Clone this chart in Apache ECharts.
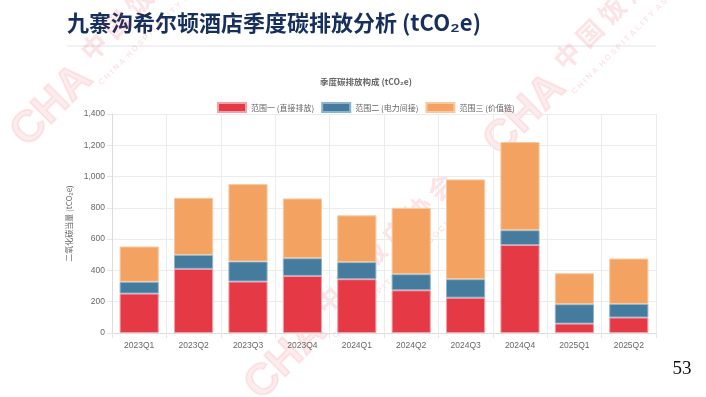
<!DOCTYPE html>
<html>
<head>
<meta charset="utf-8">
<title>九寨沟希尔顿酒店季度碳排放分析</title>
<script src="https://cdn.jsdelivr.net/npm/echarts@6/dist/echarts.min.js"></script>
<style>
    html, body { margin: 0; padding: 0; background: #fff; }
    #main { width: 706px; height: 397px; }
</style>
</head>
<body>
<div id="main"></div>
<script>
/* 数据 */
var quarters = ['2023Q1', '2023Q2', '2023Q3', '2023Q4', '2024Q1', '2024Q2', '2024Q3', '2024Q4', '2025Q1', '2025Q2'];
var scope1 = [252, 410, 329, 365, 344, 273, 226, 563, 60, 99];
var scope2 = [75, 89, 128, 113, 109, 103, 118, 94, 124, 87];
var scope3 = [226, 365, 495, 382, 299, 424, 638, 564, 198, 290];
var seriesNames = ['范围一 (直接排放)', '范围二 (电力间接)', '范围三 (价值链)'];
var yTicks = { min: 0, max: 1400, step: 200 };

var FONT = '"Liberation Sans", Arial, "Noto Sans CJK SC", sans-serif';
var CJK = '"Noto Sans CJK SC", "Liberation Sans", sans-serif';
var WM = 'rgba(228, 40, 52, 0.13)';
var WM_LOGO = 'rgba(228, 40, 52, 0.09)';

(function () {
    'use strict';
    var chart = echarts.init(document.getElementById('main'), null, { renderer: 'canvas' });

    /* 水印：logo + 中文 + 英文，45度斜放 */
    function stamp(x, y) {
        var rot = Math.PI / 4;
        return [
            {
                type: 'text', x: x - 48, y: y + 22, rotation: rot, silent: true,
                style: { text: 'CHA', fill: WM_LOGO, stroke: WM_LOGO, lineWidth: 2,
                    font: 'bold 44px ' + FONT, textAlign: 'center', textVerticalAlign: 'middle' }
            },
            {
                type: 'text', x: x - 15, y: y - 28, rotation: rot, silent: true,
                style: { text: '中 国 饭 店 协 会', fill: WM,
                    font: 'bold 26px ' + CJK, textAlign: 'left', textVerticalAlign: 'middle' }
            },
            {
                type: 'text', x: x, y: y, rotation: rot, silent: true,
                style: { text: 'C H I N A  H O S P I T A L I T Y  A S S O C I A T I O N', fill: WM,
                    font: 'bold 8px ' + FONT, textAlign: 'left', textVerticalAlign: 'middle' }
            }
        ];
    }

    var graphics = [
        {
            type: 'text', left: 67, top: 12,
            style: { text: '九寨沟希尔顿酒店季度碳排放分析 (tCO₂e)', fill: '#172f5c',
                font: 'bold 22px ' + CJK }
        },
        {
            type: 'line', silent: true,
            shape: { x1: 67, y1: 46, x2: 656, y2: 46 },
            style: { stroke: '#e4e4e8', lineWidth: 1 }
        },
        {
            type: 'text', x: 682, y: 369,
            style: { text: '53', fill: '#111', font: '19px "Liberation Serif", "DejaVu Serif", serif',
                textAlign: 'center', textVerticalAlign: 'middle' }
        }
    ];
    graphics = graphics.concat(stamp(100, 84), stamp(334, 337), stamp(573, 93));

    function bar(name, data, color, border) {
        return {
            name: name,
            type: 'bar',
            stack: 'total',
            data: data,
            barCategoryGap: '28%',
            itemStyle: { color: color, borderColor: border, borderWidth: 1 }
        };
    }

    var option = {
        animation: false,
        backgroundColor: '#fff',
        title: {
            text: '季度碳排放构成 (tCO₂e)',
            left: 361, textAlign: 'center', top: 73,
            textStyle: { fontSize: 8.5, fontWeight: 'bold', color: '#666', fontFamily: CJK }
        },
        legend: {
            left: 212, top: 97,
            itemWidth: 28, itemHeight: 9, itemGap: 7,
            icon: 'rect',
            textStyle: { fontSize: 8, color: '#666', fontFamily: CJK },
            data: seriesNames
        },
        grid: { left: 112, right: 50, top: 114, bottom: 64, containLabel: false },
        xAxis: {
            type: 'category',
            data: quarters,
            axisLine: { lineStyle: { color: '#dcdcdc' } },
            axisTick: { show: true, length: 5, lineStyle: { color: '#e6e6e6' } },
            splitLine: { show: true, lineStyle: { color: '#ececec' } },
            axisLabel: { fontSize: 8.5, color: '#666', margin: 8, fontFamily: FONT }
        },
        yAxis: {
            type: 'value',
            min: yTicks.min, max: yTicks.max, interval: yTicks.step,
            name: '二氧化碳当量 (tCO₂e)',
            nameLocation: 'middle',
            nameGap: 34,
            nameTextStyle: { fontSize: 8, color: '#666', fontFamily: CJK },
            axisLine: { show: true, lineStyle: { color: '#dcdcdc' } },
            axisTick: { show: true, length: 5, lineStyle: { color: '#e6e6e6' } },
            splitLine: { lineStyle: { color: '#ececec' } },
            axisLabel: {
                fontSize: 8.5, color: '#666', margin: 7, fontFamily: FONT,
                formatter: function (v) { return v.toLocaleString('en-US'); }
            }
        },
        series: [
            bar(seriesNames[0], scope1, '#e63946', '#f3a0a8'),
            bar(seriesNames[1], scope2, '#457b9d', '#8fb3cc'),
            bar(seriesNames[2], scope3, '#f4a261', '#f8c9a0')
        ],
        graphic: graphics
    };

    chart.setOption(option);
})();
</script>
</body>
</html>
